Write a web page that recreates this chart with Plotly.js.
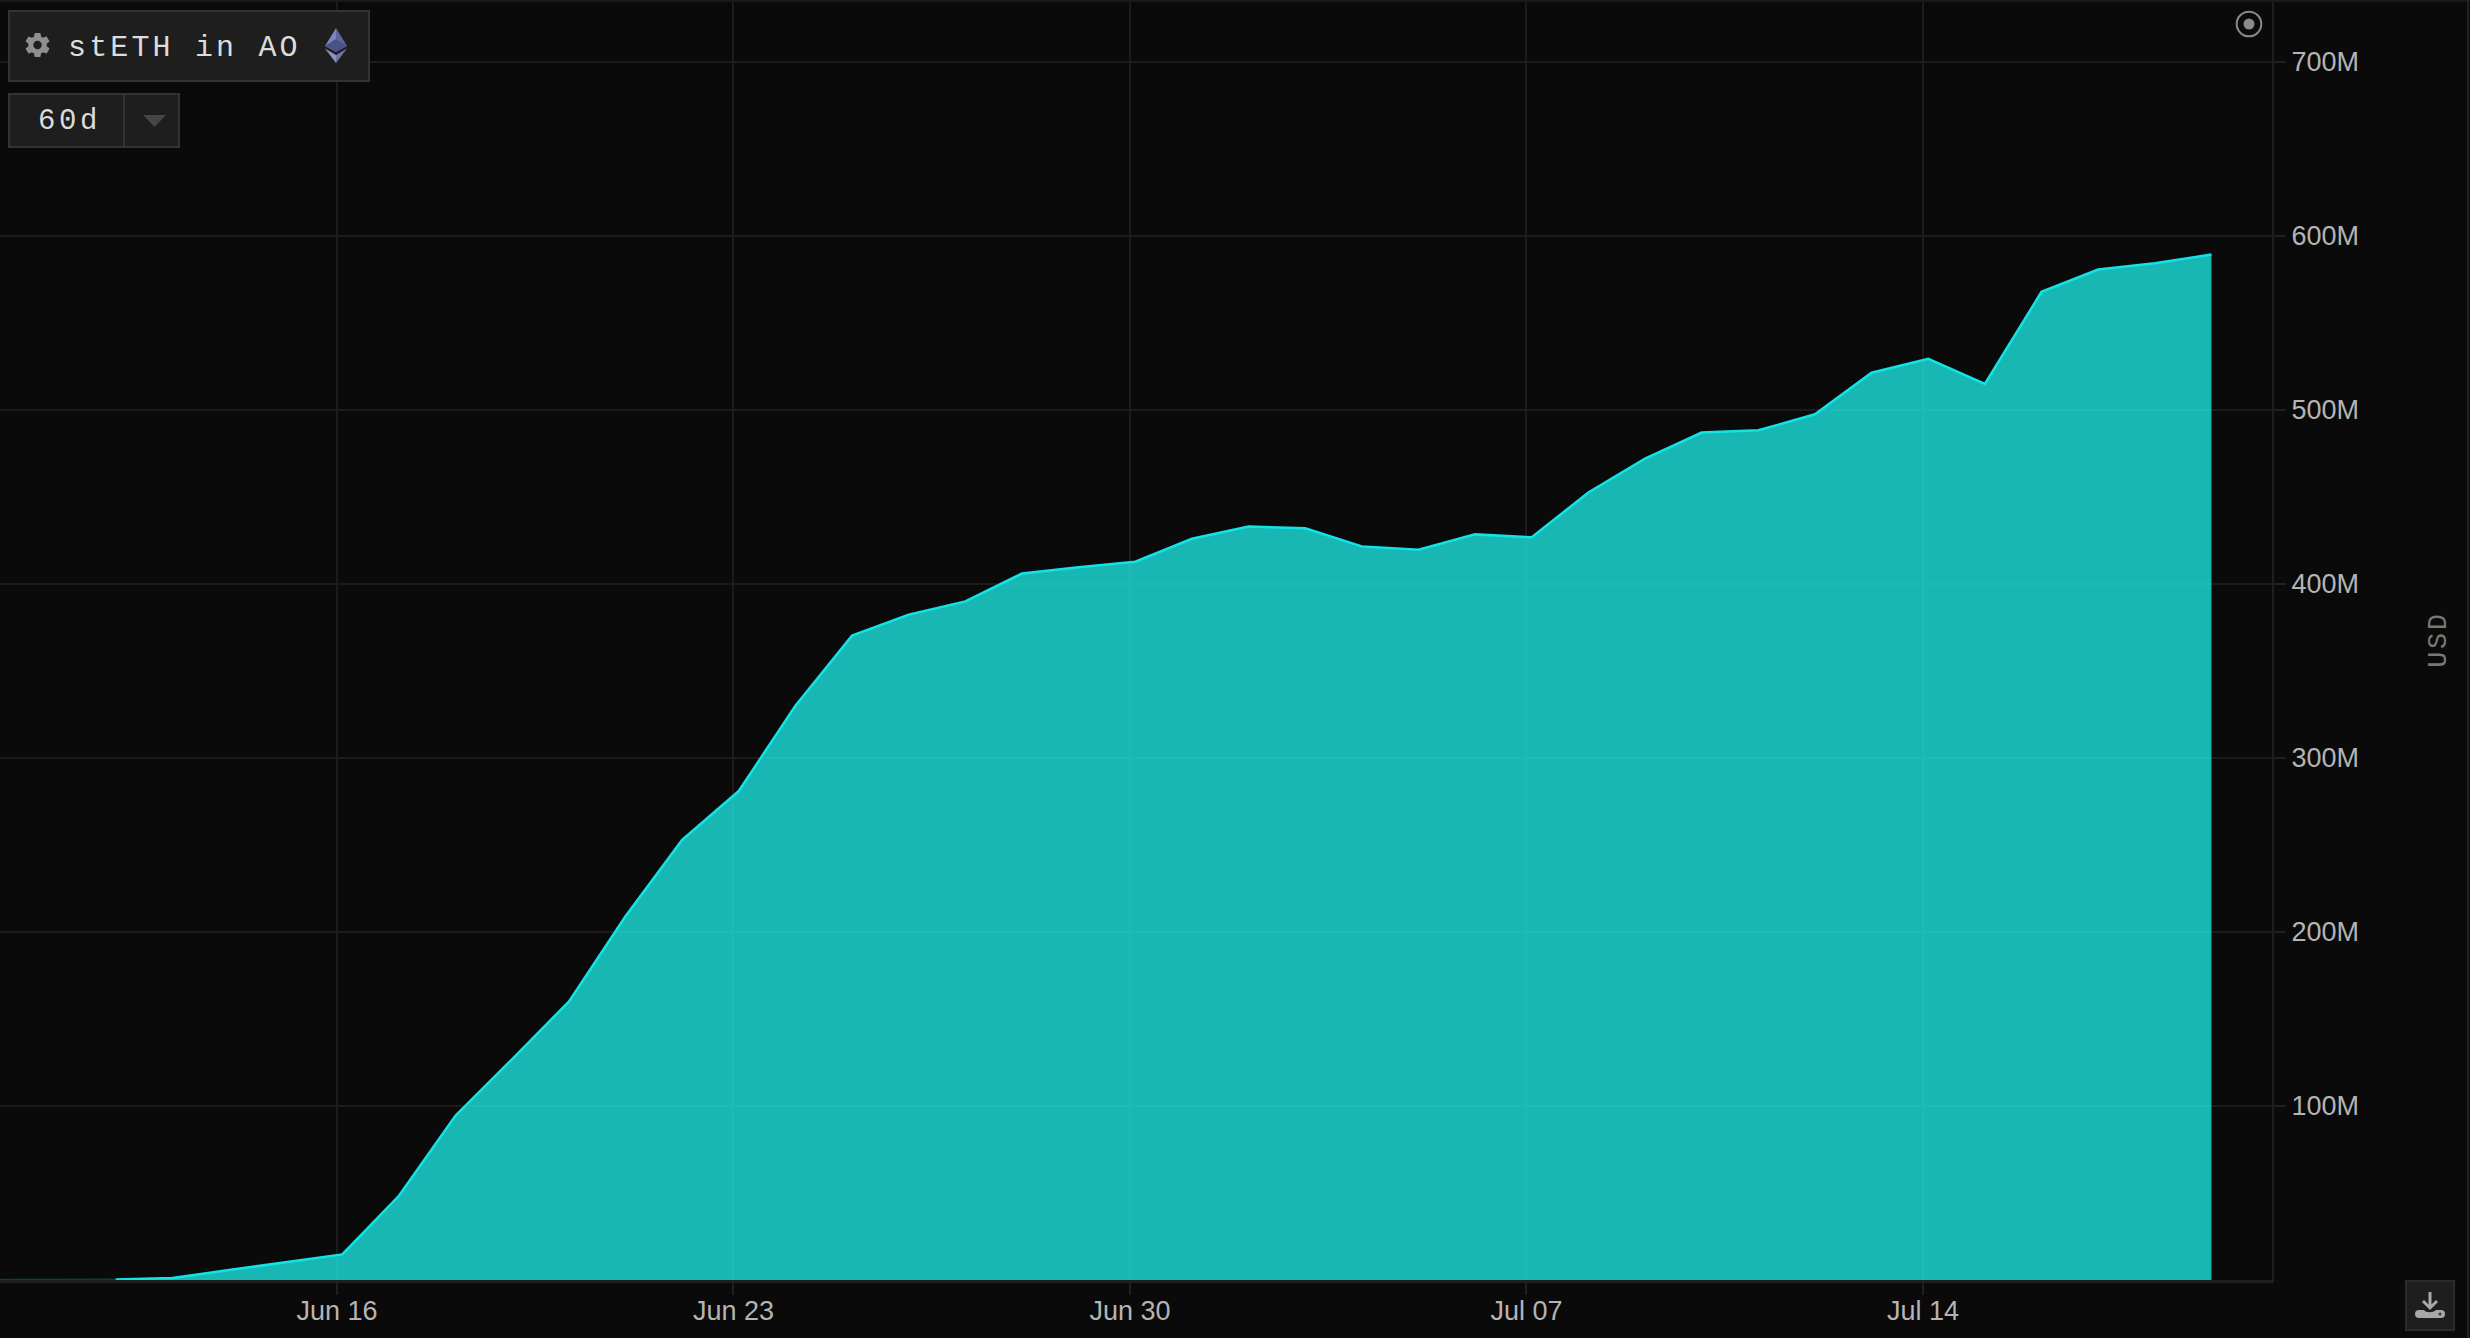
<!DOCTYPE html>
<html>
<head>
<meta charset="utf-8">
<script src="https://cdn.plot.ly/plotly-3.0.1.min.js"></script>
<style>
html,body{margin:0;padding:0;background:#0a0a0a;width:2470px;height:1338px;overflow:hidden}
#chart{position:absolute;left:0;top:0;width:2470px;height:1338px}
#chart .annotation-text{letter-spacing:2.5px}
.w{position:absolute;box-sizing:border-box;background:#1e1e1e;border:2px solid #333}
.t{position:absolute;font-family:"Liberation Mono",monospace;color:#dcdcdc;white-space:pre}
svg.i{position:absolute;overflow:visible}
#edgeT{position:absolute;left:0;top:0;width:2470px;height:2px;background:#191919}
#edgeR{position:absolute;left:2467px;top:0;width:2px;height:1338px;background:#222}
</style>
</head>
<body>
<div id="chart"></div>
<div id="edgeT"></div><div id="edgeR"></div>

<div class="w" style="left:8px;top:10px;width:362px;height:72px"></div>
<svg class="i" style="left:24px;top:31px" width="28" height="28" viewBox="0 0 24 24"><path fill="#8f8f8f" d="M19.4 13c.04-.33.1-.66.1-1s-.06-.67-.1-1l2.2-1.7c.2-.15.25-.43.12-.66l-2.1-3.6c-.12-.22-.4-.3-.63-.22l-2.6 1.05c-.54-.42-1.13-.76-1.76-1.02L14.2 2.1c-.04-.24-.25-.42-.5-.42H9.5c-.25 0-.46.18-.5.42l-.4 2.76c-.63.26-1.22.6-1.76 1.02L4.24 4.83c-.23-.08-.5 0-.63.22l-2.1 3.6c-.13.23-.08.5.12.66L3.83 11c-.04.33-.07.66-.07 1s.03.67.07 1l-2.2 1.7c-.2.16-.25.43-.12.66l2.1 3.6c.13.22.4.3.63.22l2.6-1.05c.54.42 1.13.76 1.76 1.02l.4 2.76c.04.24.25.42.5.42h4.2c.25 0 .46-.18.5-.42l.4-2.76c.63-.26 1.22-.6 1.76-1.02l2.6 1.05c.23.08.5 0 .63-.22l2.1-3.6c.13-.23.08-.5-.12-.66zM11.6 15.6a3.6 3.6 0 1 1 0-7.2 3.6 3.6 0 0 1 0 7.2z"/></svg>
<div class="t" style="left:68px;top:31px;font-size:30px;line-height:34px;letter-spacing:3.15px">stETH in AO</div>
<svg class="i" style="left:325px;top:28px" width="22" height="35" viewBox="0 0 22 35">
<polygon points="11,0 0,18 11,24" fill="#7b84bd"/><polygon points="11,0 22,18 11,24" fill="#5d659c"/>
<polygon points="11,11 0,18 11,24 22,18" fill="#4b5285"/>
<polygon points="0,20.5 11,35 11,27" fill="#8b93c8"/><polygon points="22,20.5 11,35 11,27" fill="#6d75ad"/>
</svg>

<div class="w" style="left:8px;top:93px;width:172px;height:55px"></div>
<div style="position:absolute;left:123px;top:94px;width:2px;height:53px;background:#333"></div>
<div class="t" style="left:38px;top:105px;font-size:29px;line-height:34px;letter-spacing:3.6px">60d</div>
<svg class="i" style="left:143px;top:115px" width="24" height="13"><polygon points="0,0 23,0 11.5,12" fill="#454545"/></svg>

<svg class="i" style="left:2235px;top:10px" width="28" height="28">
<circle cx="14" cy="14" r="12.3" fill="none" stroke="#8a8a8a" stroke-width="2"/><circle cx="14" cy="14" r="5.5" fill="#8a8a8a"/></svg>

<div class="w" style="left:2405px;top:1280px;width:50px;height:51px;border-color:#2b2b2b"></div>
<svg class="i" style="left:2415px;top:1291px" width="30" height="30" viewBox="0 0 30 30">
<path d="M15 1v15M8 10l7 7 7-7" fill="none" stroke="#a8a8a8" stroke-width="3"/>
<path d="M4 19h5c2 3 9 3 12 0h5a3.5 3.5 0 0 1 0 8H4a3.5 3.5 0 0 1 0-8z" fill="#a8a8a8"/><circle cx="25" cy="23" r="1.5" fill="#333"/></svg>

<script>
// Chart values (USD millions per day)
var leadDates = ["2021-06-09","2021-06-10","2021-06-11","2021-06-12"];
var leadMillions = [0,0,0,0.3];
var dates = ["2021-06-12","2021-06-13","2021-06-14","2021-06-15","2021-06-16",
 "2021-06-17","2021-06-18","2021-06-19","2021-06-20","2021-06-21","2021-06-22","2021-06-23","2021-06-24","2021-06-25",
 "2021-06-26","2021-06-27","2021-06-28","2021-06-29","2021-06-30","2021-07-01","2021-07-02","2021-07-03","2021-07-04",
 "2021-07-05","2021-07-06","2021-07-07","2021-07-08","2021-07-09","2021-07-10","2021-07-11","2021-07-12","2021-07-13",
 "2021-07-14","2021-07-15","2021-07-16","2021-07-17","2021-07-18","2021-07-19"];
var tvlMillions = [0.3,1.2,5.7,10.2,14.7,
 48.4,94.5,127,160,209,253,281,330,370.3,
 382.4,390,406,409.6,412.8,426,433,432,421.6,
 419.7,428.5,426.8,452.6,472,487,488.3,497.5,521.4,
 529.4,515,567.9,580.7,584.3,589.3];
var yTicks = [100,200,300,400,500,600,700];
var yLabels = ["100M","200M","300M","400M","500M","600M","700M"];
var seriesName = "stETH in AO";
var unitLabel = "USD";
var sampleHour = "T02:15:00";

function stamp(d){return d + sampleHour;}

var lineC = "#1f1f1f", gridC = "#1b1b1b",
    tickFont = {family:"Liberation Sans, Arial, sans-serif", size:27, color:"#b4b4b4"};

Plotly.newPlot("chart", [{
  type:"scatter", mode:"lines", name:seriesName+" (empty)", x:leadDates.map(stamp), y:leadMillions,
  line:{color:"#0d3f3f", width:2}, hoverinfo:"skip"
},{
  type:"scatter", mode:"lines", name:seriesName, x:dates.map(stamp), y:tvlMillions,
  fill:"tozeroy", fillcolor:"rgba(28,232,228,0.78)",
  line:{color:"#12e4e6", width:2.5, shape:"linear"}, hoverinfo:"x+y"
}], {
  width:2470, height:1338, autosize:false,
  margin:{l:0, r:198, t:0, b:58, pad:0},
  paper_bgcolor:"#0a0a0a", plot_bgcolor:"#0a0a0a", showlegend:false,
  xaxis:{type:"date", range:["2021-06-10T01:12:00","2021-07-20T03:55:00"],
    tick0:"2021-06-16", dtick:7*864e5, tickformat:"%b %d", ticks:"outside", ticklen:12, tickwidth:2, tickcolor:lineC,
    ticklabelstandoff:-7,
    showgrid:true, gridcolor:gridC, gridwidth:2, zeroline:false, showline:true, linecolor:lineC, linewidth:3, tickfont:tickFont},
  yaxis:{side:"right", range:[0,735.6], tickmode:"array", tickvals:yTicks, ticktext:yLabels,
    ticks:"outside", ticklen:12, tickwidth:2, tickcolor:lineC,
    showgrid:true, gridcolor:gridC, gridwidth:2, zeroline:false, showline:true, linecolor:lineC, linewidth:2, tickfont:tickFont},
  annotations:[{xref:"paper", yref:"paper", x:2439/2272, y:(1280-640)/1280, text:unitLabel, showarrow:false, textangle:-90,
    xanchor:"center", yanchor:"middle", font:{family:"Liberation Mono, monospace", size:27, color:"#787878"}}]
}, {staticPlot:true, displayModeBar:false});
</script>
</body>
</html>
